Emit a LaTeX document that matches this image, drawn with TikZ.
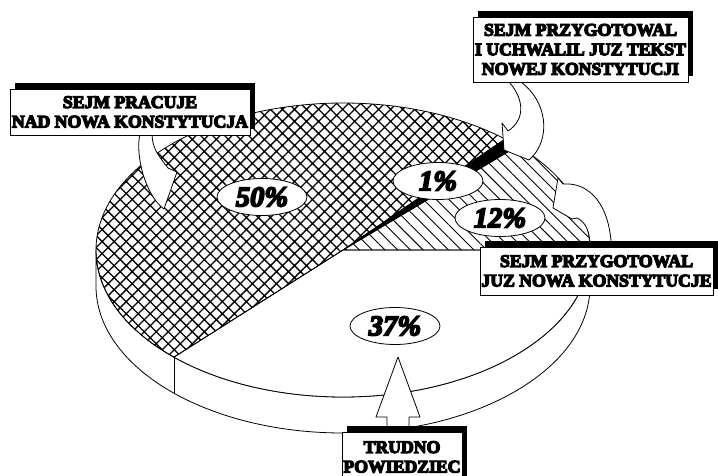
\documentclass[tikz,border=0pt]{standalone}
\usepackage{fontspec}
\setmainfont{Liberation Serif}
\font\boxheavy="Liberation Serif/B:embolden=7" at 17.7pt
\font\pctheavy="Liberation Serif/BI:embolden=6" at 28.5pt
\newcommand\boxtext{\boxheavy\baselineskip=19.5pt\relax}
\usetikzlibrary{shapes.geometric, patterns.meta, shadows}
\pgfdeclarelayer{front}
\pgfsetlayers{main,front}

\begin{document}
\begin{tikzpicture}[x=1pt, y=-1pt,
    pie/.style={draw, line width=0.8pt, line join=round},
    ell/.style={x radius=247pt, y radius=147pt},
    pct/.style={ellipse, draw, fill=white, line width=0.8pt, inner sep=0pt,
        minimum width=90pt, minimum height=37pt, font=\pctheavy},
    callout/.style={draw, fill=white, line width=0.8pt, inner sep=0pt, align=center,
        font=\boxtext,
        general shadow={fill=black, shadow xshift=5pt, shadow yshift=6pt}},
    bigarrow/.style={draw, fill=white, line width=0.8pt, line join=round}]
    \useasboundingbox (0,0) rectangle (718,476);
    \coordinate (o) at (343,250);
    % side of the pie
    \draw[pie, fill=white] (96,250) -- (96,286) arc[ell, start angle=180, end angle=360]
        -- (590,250) arc[ell, start angle=0, end angle=-180] -- cycle;
    \draw[pie] (o) ++(226.8:247pt and 147pt) -- ++(0,36);
    % top of the pie
    \draw[pie, fill=white] (o) -- ++(226.8:247pt and 147pt) arc[ell, start angle=226.8, end angle=360] -- cycle;
    \draw[pie, pattern={Hatch[angle=45, distance=8.5pt, line width=1.3pt]}]
        (o) -- ++(49:247pt and 147pt) arc[ell, start angle=49, end angle=226.8] -- cycle;
    \draw[pie, pattern={Lines[angle=-45, distance=9pt, line width=0.9pt]}]
        (o) -- ++(0:247pt and 147pt) arc[ell, start angle=0, end angle=45] -- cycle;
    \draw[pie, fill=black] (o) -- ++(45:247pt and 147pt) arc[ell, start angle=45, end angle=49] -- cycle;

    \node[pct] (p50) at (262,197) {50\%};
    \node[pct] (p1) at (438,181) {1\%};
    \node[pct] (p12) at (500,218) {12\%};
    \node[pct] (p37) at (395,326) {37\%};

    \begin{pgfonlayer}{front}
    \node[callout, minimum width=240pt, minimum height=46pt] (pracuje) at (130,112)
        {SEJM PRACUJE\\NAD NOWA KONSTYTUCJA};
    \node[callout, minimum width=215pt, minimum height=65pt] (uchwalil) at (580.5,49.5)
        {SEJM PRZYGOTOWAL\\I UCHWALIL JUZ TEKST\\NOWEJ KONSTYTUCJI};
    \node[callout, minimum width=233pt, minimum height=48pt] (gotowa) at (596.5,271)
        {SEJM PRZYGOTOWAL\\JUZ NOWA KONSTYTUCJE};
    \node[callout, minimum width=120pt, minimum height=50pt] (trudno) at (402,457)
        {TRUDNO\\POWIEDZIEC};
    \end{pgfonlayer}

    % arrows from the boxes
    \coordinate (tip50) at (164,209);
    \coordinate (tip1) at (504,150);
    \coordinate (tip12) at (553,208);
    \coordinate (tip37) at (398,357);
    \draw[bigarrow] ([xshift=10pt, yshift=2pt]pracuje.south) .. controls (135,155) and (145,195) .. (tip50)
        -- (177,172) -- (168,168) .. controls (158,155) and (152,148) .. ([xshift=22pt, yshift=2pt]pracuje.south) -- cycle;
    \draw[bigarrow] ([xshift=-73pt, yshift=2pt]uchwalil.south) .. controls (522,95) and (528,118) .. (508,131)
        -- (502,123) -- (tip1) -- (529,160) .. controls (552,140) and (548,100) .. ([xshift=-62pt, yshift=2pt]uchwalil.south) -- cycle;
    \draw[bigarrow] ([xshift=15pt, yshift=-2pt]gotowa.north) .. controls (610,205) and (590,182) .. (563,184)
        -- (558,178) -- (tip12) -- (572,219) -- (577,218) .. controls (586,222) and (590,232) .. ([xshift=-6pt, yshift=-2pt]gotowa.north) -- cycle;
    \draw[bigarrow] (tip37) -- ++(22,60) -- ++(-11,0) -- ++(0,18) -- ++(-22,0) -- ++(0,-18) -- ++(-11,0) -- cycle;
\end{tikzpicture}
\end{document}
